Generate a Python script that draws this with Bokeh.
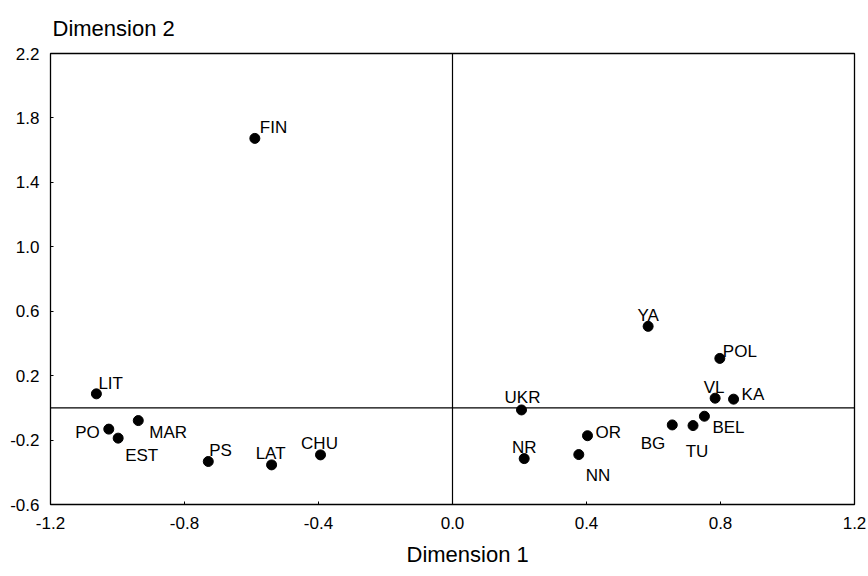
from bokeh.plotting import figure
from bokeh.models import ColumnDataSource, Range1d, FixedTicker, PrintfTickFormatter, Span, Title
from bokeh.core.properties import value
from bokeh.embed import file_html
from bokeh.resources import INLINE

# ---- data ----
names = ["LIT", "PO", "EST", "MAR", "PS", "LAT", "CHU", "FIN",
         "YA", "POL", "VL", "KA", "UKR", "BEL", "TU", "BG", "OR", "NN", "NR"]
dim1 = [-1.063, -1.026, -0.998, -0.938, -0.729, -0.540, -0.394, -0.590,
        0.584, 0.798, 0.784, 0.839, 0.206, 0.752, 0.718, 0.656, 0.403, 0.377, 0.214]
dim2 = [0.087, -0.132, -0.188, -0.079, -0.333, -0.354, -0.292, 1.673,
        0.506, 0.307, 0.060, 0.054, -0.013, -0.052, -0.110, -0.106, -0.173, -0.290, -0.315]
x_ticks = [-1.2, -0.8, -0.4, 0.0, 0.4, 0.8, 1.2]
y_ticks = [-0.6, -0.2, 0.2, 0.6, 1.0, 1.4, 1.8, 2.2]
x_title = "Dimension 1"
y_title = "Dimension 2"

# ---- label placement (styling only): align, dx, dy in screen pixels ----
placement = {
    "LIT": ("left", 2, -10), "PO": ("right", -9, 3), "EST": ("left", 7, 17),
    "MAR": ("left", 11, 12), "PS": ("left", 1, -11), "LAT": ("center", -1, -11),
    "CHU": ("center", -1, -11), "FIN": ("left", 5, -11), "YA": ("center", 0, -11),
    "POL": ("left", 3, -7), "VL": ("center", -1, -11), "KA": ("left", 8, -5),
    "UKR": ("center", 1, -12), "BEL": ("left", 8, 11), "TU": ("center", 4, 26),
    "BG": ("right", -7, 19), "OR": ("left", 8, -3), "NN": ("left", 7, 21),
    "NR": ("center", 0, -11),
}

FONT = "Liberation Sans"

p = figure(width=868, height=576, output_backend="svg", toolbar_location=None,
           x_range=Range1d(x_ticks[0], x_ticks[-1]), y_range=Range1d(y_ticks[0], y_ticks[-1]),
           min_border_left=50, min_border_right=14, min_border_top=50, min_border_bottom=72)
p.grid.visible = False
p.outline_line_color = "black"
p.outline_line_width = 1.3
p.background_fill_color = "white"
p.border_fill_color = "white"

for ax, ticks in ((p.xaxis[0], x_ticks), (p.yaxis[0], y_ticks)):
    ax.ticker = FixedTicker(ticks=ticks)
    ax.formatter = PrintfTickFormatter(format="%.1f")
    ax.axis_line_color = None
    ax.major_tick_in = 3
    ax.major_tick_out = 0
    ax.major_tick_line_color = "black"
    ax.minor_tick_line_color = None
    ax.major_label_text_font = FONT
    ax.major_label_text_font_size = "17px"
    ax.major_label_text_color = "black"
p.xaxis.major_label_standoff = 12
p.yaxis.major_label_standoff = 11

p.add_layout(Span(location=0, dimension="height", line_color="black", line_width=1.2))
p.add_layout(Span(location=0, dimension="width", line_color="black", line_width=1.2))

p.add_layout(Title(text=y_title, align="left", offset=2, text_font=FONT, text_color="black",
                   text_font_size="22px", text_font_style="normal", standoff=26), "above")
p.add_layout(Title(text=x_title, align="left", offset=356, text_font=FONT, text_color="black",
                   text_font_size="22px", text_font_style="normal", standoff=16,
                   vertical_align="bottom"), "below")

src = ColumnDataSource(dict(x=dim1, y=dim2, name=names))
p.scatter("x", "y", source=src, size=10, color="black")

for align in ("left", "center", "right"):
    sel = [i for i, n in enumerate(names) if placement[n][0] == align]
    s = ColumnDataSource(dict(
        x=[dim1[i] for i in sel], y=[dim2[i] for i in sel], t=[names[i] for i in sel],
        dx=[placement[names[i]][1] for i in sel], dy=[placement[names[i]][2] for i in sel]))
    p.text("x", "y", text="t", source=s, x_offset="dx", y_offset="dy",
           text_align=align, text_baseline="alphabetic",
           text_font=value(FONT), text_font_size="17px", text_color="black")

open("out.html", "w").write(file_html(p, INLINE))
